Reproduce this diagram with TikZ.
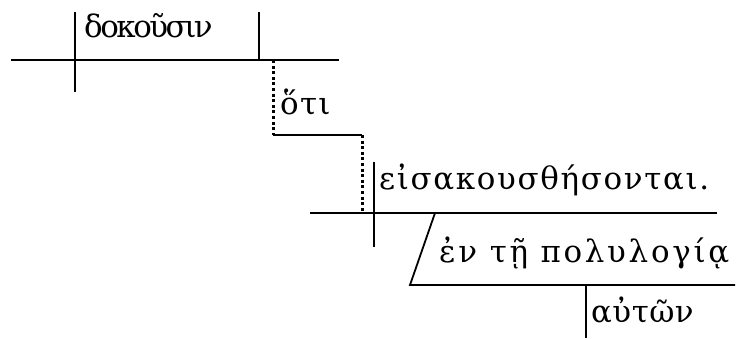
\documentclass[tikz,border=0pt]{standalone}
\usepackage{fontspec}
\setmainfont{DejaVu Serif}
\newcommand{\trk}[1]{\addfontfeatures{LetterSpace=#1}}
\begin{document}
\begin{tikzpicture}[x=1bp,y=-1bp,
  ln/.style={line width=1.8bp},
  dotln/.style={line width=3bp, dash pattern=on 3bp off 2.6bp},
  wd/.style={anchor=base west, inner sep=0pt, font=\fontsize{31}{31}\selectfont}]
\useasboundingbox (0,0) rectangle (736,339);
% coordinates
\coordinate (b1l) at (11,60);
\coordinate (b1r) at (339,60);
\coordinate (d1t) at (75,12);
\coordinate (d1b) at (75,92);
\coordinate (v1t) at (259,12);
\coordinate (v1b) at (259,60);
\coordinate (c1) at (273,60);
\coordinate (c2) at (273,135);
\coordinate (c3) at (362,135);
\coordinate (c4) at (362,212);
\coordinate (b2l) at (310,213);
\coordinate (b2r) at (717,213);
\coordinate (d2t) at (374,162);
\coordinate (d2b) at (374,247);
\coordinate (s1) at (435,213);
\coordinate (s2) at (410,285);
\coordinate (s3) at (735,285);
\coordinate (a1) at (586,285);
\coordinate (a2) at (586,338);
% words
\node[wd] (w1) at (84,37) {\trk{-8}δοκοῦσιν};
\node[wd] (w2) at (280,114) {\trk{4}ὅτι};
\node[wd] (w3) at (379,189) {\trk{5.4}εἰσακουσθήσονται.};
\node[wd] (w4) at (439,262) {\trk{8.8}ἐν τῇ πολυλογίᾳ};
\node[wd] (w5) at (591,322) {\trk{1.5}αὐτῶν};
% lines
\draw[ln] (b1l) -- (b1r);
\draw[ln] (d1t) -- (d1b);
\draw[ln] (v1t) -- (v1b);
\draw[dotln] (c1) -- (c2);
\draw[ln] (c2) -- (c3);
\draw[dotln] (c3) -- (c4);
\draw[ln] (b2l) -- (b2r);
\draw[ln] (d2t) -- (d2b);
\draw[ln] (s1) -- (s2) -- (s3);
\draw[ln] (a1) -- (a2);
\end{tikzpicture}
\end{document}
